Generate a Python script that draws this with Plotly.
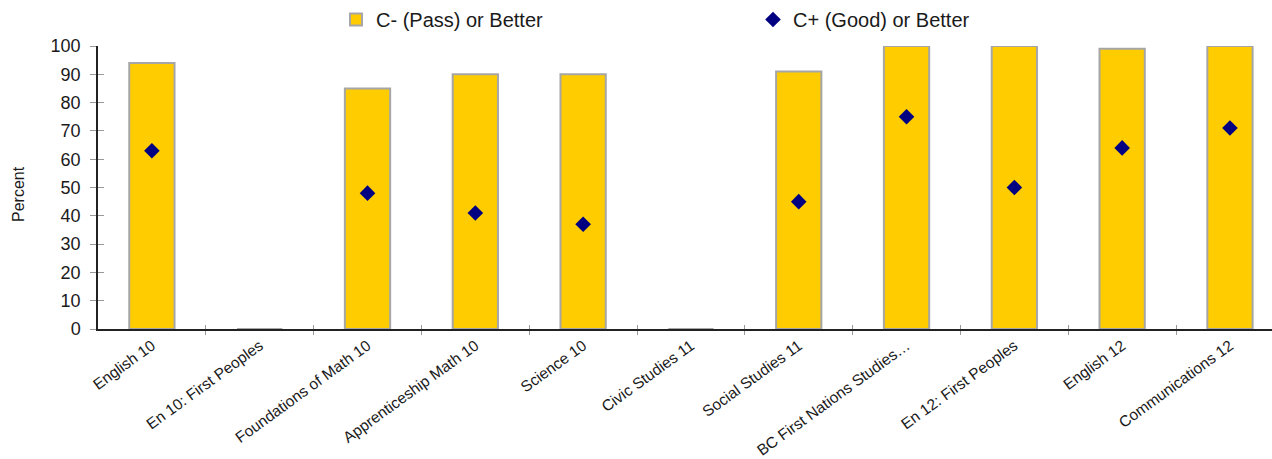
import plotly.graph_objects as go

categories = ["English 10", "En 10: First Peoples", "Foundations of Math 10",
              "Apprenticeship Math 10", "Science 10", "Civic Studies 11",
              "Social Studies 11", "BC First Nations Studies…", "En 12: First Peoples",
              "English 12", "Communications 12"]
pass_or_better = [94, 0, 85, 90, 90, 0, 91, 100, 100, 99, 100]
good_or_better = [63, None, 48, 41, 37, None, 45, 75, 50, 64, 71]
y_ticks = [0, 10, 20, 30, 40, 50, 60, 70, 80, 90, 100]

font_family = "Liberation Sans, Arial, sans-serif"
positions = list(range(len(categories)))
boundaries = [p + 0.5 for p in positions[:-1]]
x_range = [-0.5, 10.39]
y_range = [0, 100]

fig = go.Figure()
fig.add_trace(go.Bar(
    x=positions, y=pass_or_better, name="C- (Pass) or Better",
    marker=dict(color="#FFCC00", line=dict(color="#A6A6A6", width=2)),
    width=0.42,
))
fig.add_trace(go.Scatter(
    x=positions, y=good_or_better, name="C+ (Good) or Better",
    mode="markers",
    marker=dict(symbol="diamond", color="#000080", size=12),
))
# invisible helper trace so the overlay axes (inward tick halves) are drawn
fig.add_trace(go.Scatter(
    x=[positions[0]], y=[y_ticks[0]], xaxis="x2", yaxis="y2",
    mode="markers", marker=dict(opacity=0), showlegend=False, hoverinfo="skip",
))

fig.update_layout(
    width=1272, height=459,
    margin=dict(l=98, r=0, t=46, b=130),
    paper_bgcolor="white", plot_bgcolor="white",
    font=dict(family=font_family, size=15, color="#1a1a1a"),
    showlegend=True,
    legend=dict(orientation="h", x=(336 - 98) / 1174, xanchor="left", y=1.025, yanchor="bottom",
                font=dict(size=20, color="#1a1a1a"),
                entrywidth=372, entrywidthmode="pixels", itemwidth=30,
                bgcolor="rgba(0,0,0,0)"),
    xaxis=dict(
        range=x_range,
        tickmode="array", tickvals=positions, ticktext=categories,
        tickangle=-36, ticks="",
        minor=dict(tickmode="array", tickvals=boundaries, ticks="outside", ticklen=4,
                   tickcolor="#999999", showgrid=False),
        showline=True, linecolor="#222222", linewidth=1.5,
        showgrid=False, zeroline=False, automargin=False,
        tickfont=dict(size=15.5, family=font_family, color="#1a1a1a"),
    ),
    xaxis2=dict(
        overlaying="x", anchor="y2", side="bottom", range=x_range,
        tickmode="array", tickvals=boundaries, ticks="inside", ticklen=4,
        tickcolor="#999999", showticklabels=False, showgrid=False, zeroline=False,
        showline=False,
    ),
    yaxis=dict(
        range=y_range, tickmode="array", tickvals=y_ticks,
        ticks="outside", ticklen=6, tickcolor="#999999",
        showline=True, linecolor="#222222", linewidth=1.5,
        showgrid=False, zeroline=False,
        ticklabelstandoff=6,
        tickfont=dict(size=18, family=font_family, color="#1a1a1a"),
    ),
    yaxis2=dict(
        overlaying="y", anchor="x2", side="left", range=y_range,
        tickmode="array", tickvals=y_ticks, ticks="inside", ticklen=6,
        tickcolor="#999999", showticklabels=False, showgrid=False, zeroline=False,
        showline=False,
    ),
    annotations=[dict(
        text="Percent", textangle=-90, showarrow=False,
        xref="paper", yref="paper",
        x=(19 - 98) / 1174, y=(329 - 194) / 283,
        xanchor="center", yanchor="middle",
        font=dict(size=16, family=font_family, color="#1a1a1a"),
    )],
)

fig.write_html("out.html")
